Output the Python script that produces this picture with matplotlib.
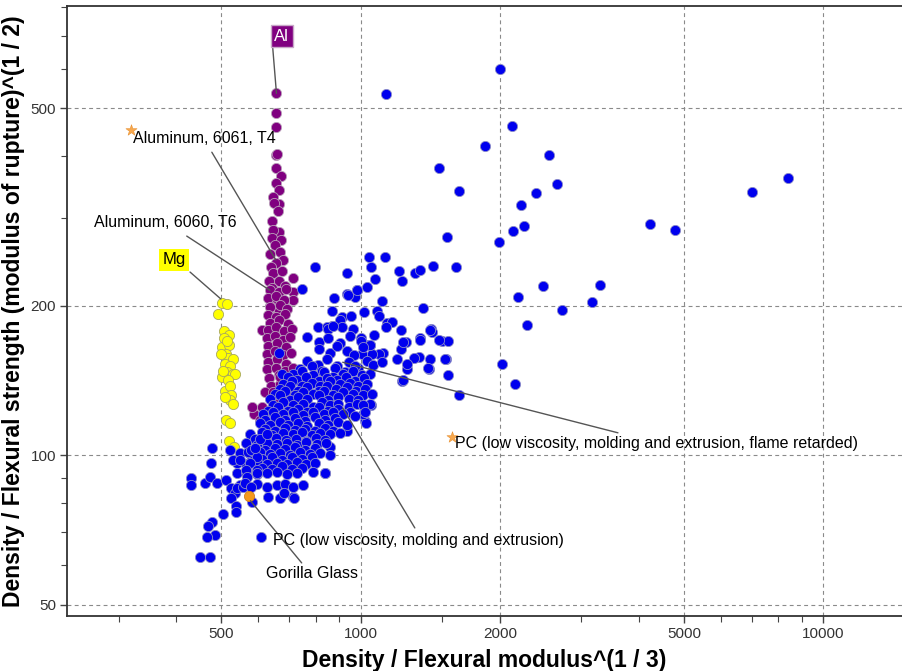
import matplotlib
matplotlib.use("Agg")
import matplotlib.pyplot as plt
from matplotlib.ticker import NullFormatter

plt.rcParams['font.family'] = ['Liberation Sans', 'DejaVu Sans']

# ---------------- data (x = Density / Flexural modulus^(1/3), y = Density / Flexural strength^(1/2)) ----
x_ticks = [500, 1000, 2000, 5000, 10000]
x_tick_labels = ["500", "1000", "2000", "5000", "10000"]
x_minor = [300, 400, 600, 700, 800, 900, 1500, 3000, 4000, 6000, 7000, 8000, 9000]
y_ticks = [50, 100, 200, 500]
y_tick_labels = ["50", "100", "200", "500"]
y_minor = [60, 70, 80, 90, 300, 400, 600, 700, 800]

# Aluminium (purple)
al_points = [
    (658, 536), (658, 490), (658, 459), (655, 403), (660, 404), (658, 379), (673, 365), (655, 353),
    (666, 342), (647, 332), (666, 321), (649, 322), (662, 310), (645, 297), (667, 282), (647, 284),
    (642, 274), (672, 271), (653, 265), (637, 255), (669, 257), (681, 247), (658, 244), (639, 240),
    (647, 233), (675, 235), (635, 225), (666, 224), (713, 228), (686, 219), (642, 217), (713, 213),
    (713, 206), (682, 204), (653, 206), (637, 200), (666, 196), (647, 190), (675, 189), (611, 179),
    (692, 177), (658, 176),
    (637, 215), (666, 213), (690, 216), (630, 207), (656, 209), (683, 206), (637, 199), (669, 201),
    (693, 197), (630, 192), (656, 190), (686, 193), (637, 185), (666, 187), (696, 184), (630, 179),
    (656, 181), (683, 178), (710, 180), (627, 172), (653, 174), (680, 171), (703, 173), (630, 166),
    (659, 168), (690, 165), (627, 160), (653, 162), (680, 159), (707, 161), (630, 154), (659, 156),
    (690, 153), (627, 149), (656, 150), (686, 148), (714, 150), (633, 143), (666, 145), (693, 142),
    (640, 138), (669, 139), (700, 137), (647, 133), (680, 134), (710, 132), (656, 128), (686, 129),
    (666, 123), (696, 124), (676, 119),
    (623, 134), (612, 125), (588, 121), (647, 134), (606, 118), (584, 125), (669, 144),
]

# Magnesium (yellow)
mg_points = [
    (501, 203), (514, 202), (492, 193), (507, 178), (520, 175), (503, 165), (520, 166.5), (511, 160),
    (517, 157), (530, 156), (509, 153), (522, 151), (514, 147), (502, 144), (530, 146), (535, 146),
    (517, 142), (509, 135), (522, 138), (526, 132), (522, 129), (509, 131), (530, 127), (512, 118),
    (522, 116), (520, 107), (532, 104), (505, 148), (507, 172), (515, 170), (500, 160),
]

# Other materials (blue)
other_points = [
    # sparse upper right
    (2000, 600), (1135, 535), (2130, 460), (1860, 420), (2550, 403), (2660, 352), (1635, 341),
    (2390, 337), (2220, 320), (7000, 339), (8390, 362), (4220, 293), (4790, 285), (1540, 275),
    (1990, 269), (2140, 283), (2255, 290), (1610, 240), (2480, 219), (3300, 220), (2185, 208),
    (3170, 204), (2730, 196), (2290, 183), (2020, 153), (2155, 139), (1635, 132), (1480, 380),
    # scattered above the main cloud
    (797, 239), (935, 233), (1045, 251), (1127, 251), (1054, 240), (1212, 235), (1308, 233),
    (1345, 236), (1433, 241), (1228, 224), (1074, 227), (749, 216), (1030, 218), (983, 215),
    (936, 211), (972, 208), (877, 207), (1110, 205), (1362, 198), (868, 195), (1015, 194),
    (1086, 195), (1095, 191), (914, 190), (953, 191), (902, 187), (1140, 185), (1170, 186),
    (1133, 181), (1222, 179), (1420, 180), (1430, 177), (964, 180), (914, 181), (866, 182),
    (810, 181), (847, 181), (1344, 172), (1500, 170), (1542, 170), (1000, 172), (1067, 175),
    (1251, 169), (1220, 164), (1117, 161), (1095, 160), (1046, 167), (1025, 167), (1006, 160),
    (1061, 160), (1335, 158), (1306, 157), (1196, 156), (1529, 156), (1257, 149), (1407, 149),
    (1547, 145), (1232, 141), (940, 210), (980, 215), (851, 180), (873, 182),
    (1260, 153), (1412, 156), (1521, 156), (1237, 142), (1398, 150), (1237, 169), (1343, 171),
    (1476, 171), (1412, 179), (1053, 126), (1022, 117), (858, 104), (837, 92), (933, 112),
    (1025, 116), (1050, 127), (1012, 121), (666, 161), (678, 145.5),
    # main cloud
    (767, 173), (813, 169), (852, 172), (902, 168), (948, 174), (1003, 170), (1047, 167),
    (813, 164), (858, 161), (889, 166), (937, 162), (967, 159), (1013, 165),
    (767, 155), (808, 152), (847, 156), (891, 151), (942, 154), (987, 150), (1032, 155), (1064, 152), (1115, 154),
    (739, 149), (785, 151), (825, 148), (880, 150), (925, 147), (972, 151),
    (714, 146), (746, 148), (789, 145), (833, 147), (871, 144), (916, 146), (962, 148), (1006, 145), (1047, 146),
    (696, 144), (728, 142), (763, 144), (813, 141), (847, 143), (889, 142), (929, 144), (972, 141), (1017, 143),
    (680, 139), (710, 141), (746, 138), (785, 140), (817, 138), (858, 141), (902, 139), (948, 140), (987, 138), (1032, 139),
    (669, 136), (703, 138), (732, 135), (767, 137), (813, 135), (847, 138), (884, 136), (937, 137), (977, 135), (1022, 136),
    (653, 133), (686, 135), (721, 132), (750, 134), (789, 133), (833, 135), (871, 132), (916, 134), (962, 133), (1013, 132), (1058, 133),
    (637, 130), (669, 132), (703, 129), (732, 131), (767, 130), (813, 132), (852, 129), (893, 131), (942, 130), (987, 129),
    (647, 126), (680, 128), (714, 126), (750, 127), (789, 125), (825, 128), (858, 126), (893, 127), (942, 125), (982, 127), (1013, 126),
    (630, 123), (662, 125), (696, 123), (732, 124), (767, 122.5), (813, 125), (852, 123), (893, 124), (948, 122),
    (615, 121), (647, 122.5), (680, 121), (714, 122), (750, 120.5), (789, 122), (833, 121), (871, 122.5), (916, 121), (972, 120), (1022, 122),
    (621, 118), (653, 119.5), (686, 118), (721, 119), (758, 117.5), (797, 119.5), (837, 118), (880, 119),
    (606, 116), (637, 115), (669, 116.5), (696, 115), (732, 116), (767, 114.5), (813, 116), (852, 115), (893, 116.5), (937, 115),
    (621, 113), (653, 112), (686, 113.5), (721, 112.5), (758, 113), (797, 112), (837, 113.5), (871, 112),
    (576, 110.5), (612, 111.5), (643, 110), (680, 111), (714, 110.5), (746, 111.5), (785, 110), (817, 111), (858, 110.5), (902, 111),
    (591, 108), (624, 107), (656, 108.5), (690, 107.5), (725, 108), (761, 107), (801, 108.5), (837, 107.5),
    (566, 106), (597, 105), (627, 106), (659, 105.5), (693, 106), (728, 105), (763, 106.5), (804, 105.5), (842, 106),
    (591, 103.5), (621, 102.5), (653, 103.5), (686, 103), (721, 104), (758, 102.5), (797, 103.5),
    (548, 101), (576, 100.5), (606, 101.5), (637, 100.5), (669, 101), (703, 100), (739, 101.5), (777, 100.5), (817, 101), (858, 100),
    (582, 99), (612, 98.5), (643, 99), (676, 98), (710, 99), (746, 98.5), (785, 99),
    (540, 96.5), (566, 96), (597, 97), (627, 96), (659, 96.5), (693, 96), (728, 97), (763, 96), (797, 96.5),
    (612, 94.5), (643, 94), (676, 95), (710, 94), (746, 94.5),
    (540, 92), (566, 92.5), (597, 91.5), (627, 92), (659, 92.5), (693, 91.5), (728, 92), (789, 92.5), (837, 92),
    (548, 87), (597, 87.5), (627, 86.5), (659, 87), (686, 87.5), (714, 86.5), (750, 87),
    # lower-left tail
    (478, 103.5), (475, 96.5), (431, 90), (429, 87), (461, 88), (472, 90.5), (490, 88), (513, 89),
    (526, 86), (535, 84), (541, 86), (556, 86.5), (524, 82), (538, 79), (538, 77), (505, 76),
    (478, 73.5), (468, 72), (484, 69), (466, 68.5), (449, 62.5), (473, 62.5), (608, 68.5),
    (522, 102.5), (529, 98), (548, 98), (571, 101.5), (580, 102.5), (597, 99), (576, 96.5),
    (566, 93.5), (597, 93.5), (569, 90.5), (562, 88), (580, 86.5), (630, 82.5), (669, 82),
    (714, 82.5), (597, 92), (591, 103.5), (606, 108), (627, 110.5), (683, 84), (718, 82), (582, 80.5),
]

# highlighted records
star_points = [(319, 452), (1580, 109)]
gorilla_point = (574, 82.8)

# ---------------- figure ----------------
fig = plt.figure(figsize=(9.02, 6.71), dpi=100)
ax = fig.add_axes([67 / 902, 55 / 671, 1 - 67 / 902, 610 / 671])
ax.set_xscale('log')
ax.set_yscale('log')
ax.set_xlim(232, 14800)
ax.set_ylim(47.45, 804)

ms = 54
ax.scatter([p[0] for p in al_points], [p[1] for p in al_points], s=ms, c='#800080',
           edgecolors='#b9a0b9', linewidths=0.6, zorder=3)
ax.scatter([p[0] for p in mg_points], [p[1] for p in mg_points], s=ms, c='#ffff00',
           edgecolors='#a8a860', linewidths=0.6, zorder=3)
ax.scatter([p[0] for p in other_points], [p[1] for p in other_points], s=ms, c='#0000ee',
           edgecolors='#8c8cc8', linewidths=0.6, zorder=4)
ax.scatter([gorilla_point[0]], [gorilla_point[1]], s=ms, c='#f59a1b', edgecolors='#d08020',
           linewidths=0.6, zorder=5)
ax.scatter([p[0] for p in star_points], [p[1] for p in star_points], s=70, marker='*',
           c='#f7a84e', edgecolors='#e89030', linewidths=0.4, zorder=5)

# axes styling
for side in ('left', 'bottom', 'top'):
    ax.spines[side].set_color('#333333')
    ax.spines[side].set_linewidth(1.3)
ax.spines['right'].set_visible(False)

ax.set_xticks(x_ticks)
ax.set_xticklabels(x_tick_labels)
ax.set_xticks(x_minor, minor=True)
ax.xaxis.set_minor_formatter(NullFormatter())
ax.set_yticks(y_ticks)
ax.set_yticklabels(y_tick_labels)
ax.set_yticks(y_minor, minor=True)
ax.yaxis.set_minor_formatter(NullFormatter())
ax.tick_params(which='major', direction='out', length=5, width=1, color='#444444',
               labelsize=11, labelcolor='#333333', pad=3)
ax.tick_params(which='minor', direction='out', length=4, width=0.8, color='#444444')
ax.tick_params(top=False, right=False, which='both')

ax.grid(which='major', linestyle=(0, (3.5, 3)), color='#8a8a8a', linewidth=0.8, zorder=0)
ax.set_axisbelow(True)

ax.set_xlabel('Density / Flexural modulus^(1 / 3)', fontsize=16.5, fontweight='bold', labelpad=6)
ax.set_ylabel('Density / Flexural strength (modulus of rupture)^(1 / 2)', fontsize=16.5,
              fontweight='bold', labelpad=4)

# ---------------- annotations ----------------
line_kw = dict(arrowstyle='-', color='#555555', lw=1.0, shrinkA=0, shrinkB=0)

ax.annotate('', xy=(658, 536), xytext=(646, 661), arrowprops=line_kw, zorder=6)
ax.text(676, 699, 'Al', color='white', fontsize=12, ha='center', va='center', zorder=7,
        bbox=dict(boxstyle='square,pad=0.22', fc='#800080', ec='#c8a8c8', lw=1))

ax.annotate('', xy=(499, 206.5), xytext=(428, 234), arrowprops=line_kw, zorder=6)
ax.text(395, 247.5, 'Mg', color='black', fontsize=12, ha='center', va='center', zorder=7,
        bbox=dict(boxstyle='square,pad=0.2', fc='#ffff00', ec='none'))

ax.annotate('', xy=(656, 247.5), xytext=(477, 408), arrowprops=line_kw, zorder=6)
ax.text(322, 434, 'Aluminum, 6061, T4', fontsize=11.5, ha='left', va='center', zorder=7)

ax.annotate('', xy=(637, 215), xytext=(421, 276.5), arrowprops=line_kw, zorder=6)
ax.text(266, 294, 'Aluminum, 6060, T6', fontsize=11.5, ha='left', va='center', zorder=7)

ax.annotate('', xy=(915, 154), xytext=(3600, 111), arrowprops=line_kw, zorder=6)
ax.text(1600, 105.4, 'PC (low viscosity, molding and extrusion, flame retarded)', fontsize=11.5,
        ha='left', va='center', zorder=7)

ax.annotate('', xy=(915, 124.5), xytext=(1310, 71.4), arrowprops=line_kw, zorder=6)
ax.text(646, 67.5, 'PC (low viscosity, molding and extrusion)', fontsize=11.5, ha='left',
        va='center', zorder=7)

ax.annotate('', xy=(578, 81), xytext=(746, 60.7), arrowprops=line_kw, zorder=6)
ax.text(624, 57.7, 'Gorilla Glass', fontsize=11.5, ha='left', va='center', zorder=7)

fig.savefig('out.png', dpi=100)
